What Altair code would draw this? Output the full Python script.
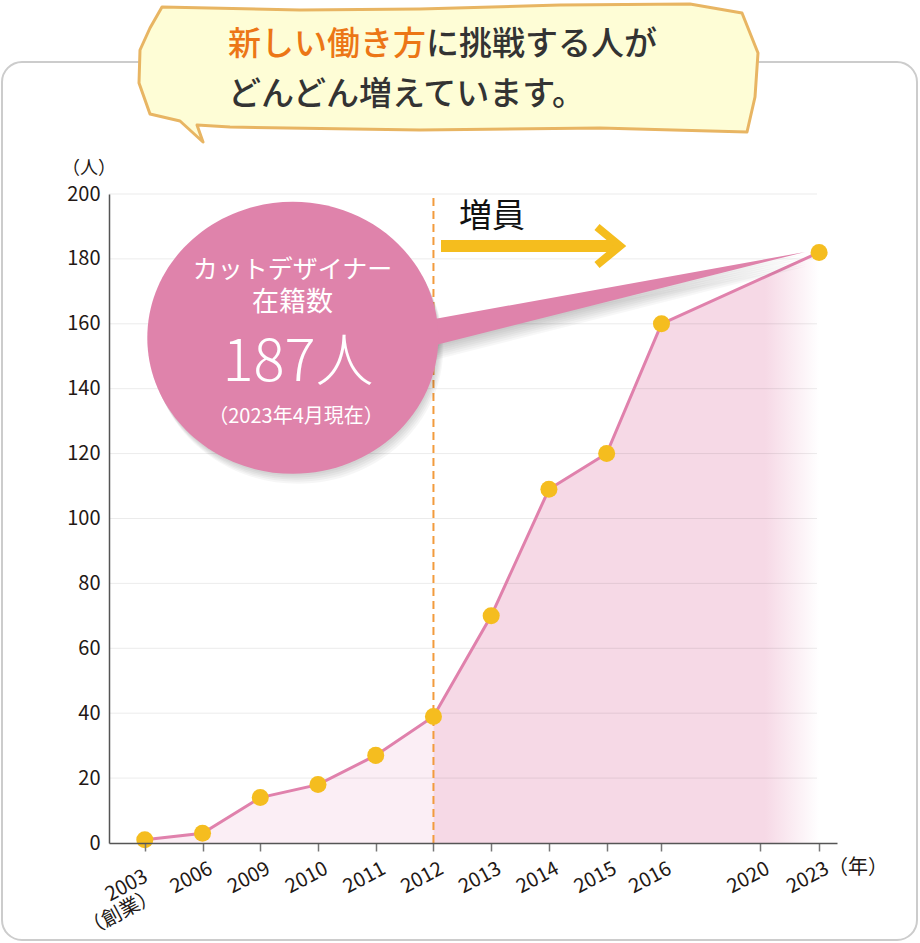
import json
import altair as alt
import pandas as pd

# ---------------- data ----------------
tick_years = ["2003", "2006", "2009", "2010", "2011", "2012", "2013", "2014", "2015", "2016", "2020", "2023"]
tick_slots = [0, 1, 2, 3, 4, 5, 6, 7, 8, 8.95, 10.65, 11.68]
point_years = ["2003", "2006", "2009", "2010", "2011", "2012", "2013", "2014", "2015", "2016", "2023"]
staff = [1, 3, 14, 18, 27, 39, 70, 109, 120, 160, 182]
y_ticks = [0, 20, 40, 60, 80, 100, 120, 140, 160, 180, 200]
grid_vals = [20, 40, 60, 80, 100, 120, 140, 160, 180, 200]
split_year = "2012"

title_orange = "新しい働き方"
title_dark = "に挑戦する人が"
title_line2 = "どんどん増えています。"
bubble_l1 = "カットデザイナー"
bubble_l2 = "在籍数"
bubble_big = "187人"
bubble_note = "（2023年4月現在）"
arrow_label = "増員"
y_unit = "（人）"
x_unit = "（年）"

FONT = "Noto Sans CJK JP"
slot_of = dict(zip(tick_years, tick_slots))
df = pd.DataFrame({"year": point_years, "slot": [slot_of[y] for y in point_years], "staff": staff})
split_slot = slot_of[split_year]
df_a = df[df["slot"] <= split_slot]
df_b = df[df["slot"] >= split_slot]

# ---------------- layout ----------------
W, H = 728, 649
OX, OY = 109, 194
one = pd.DataFrame({"k": [0]})

label_list = [[tick_years[0], "（創業）"]] + tick_years[1:]
xaxis = alt.Axis(
    values=tick_slots,
    labelExpr=f"{json.dumps(label_list, ensure_ascii=False)}[indexof({json.dumps(tick_slots)}, datum.value)]",
    title=None, grid=False, tickSize=8, tickColor="#777777", tickWidth=1.5,
    domainColor="#555555", domainWidth=1.5,
    labelFont=FONT, labelFontSize=20, labelColor="#231815", labelAngle=-28,
    labelAlign="right", labelBaseline="middle", labelLineHeight=21,
    labelPadding={"condition": {"test": "datum.value == 0", "value": 24}, "value": 16},
    labelOffset={"condition": {"test": "datum.value == 0", "value": 1}, "value": 8},
    labelOverlap=False, labelFlush=False, zindex=1,
)
yaxis = alt.Axis(
    values=y_ticks, title=None, grid=False, ticks=False,
    domainColor="#555555", domainWidth=1.5,
    labelFont=FONT, labelFontSize=20, labelColor="#231815", labelPadding=9,
    labelOverlap=False, labelFlush=False, zindex=1,
)
xs = alt.Scale(domain=[-0.62, 11.99], nice=False, zero=False)
ys = alt.Scale(domain=[0, 200], nice=False)
x_enc = alt.X("slot:Q", scale=xs, axis=xaxis)
y_enc = alt.Y("staff:Q", scale=ys, axis=yaxis)


def rel(points):
    return "M" + " L".join(f"{x - OX:.1f},{y - OY:.1f}" for x, y in points) + " Z"


def deco(path, dx=0, dy=0, **kw):
    return alt.Chart(one).mark_point(shape=path, size=4, opacity=1, **kw).encode(
        x=alt.value(dx), y=alt.value(dy))


def txt(text, x, y, size, color, weight="normal", align="center"):
    return alt.Chart(one).mark_text(
        text=text, font=FONT, fontSize=size, color=color, fontWeight=weight,
        align=align, baseline="middle").encode(x=alt.value(x - OX), y=alt.value(y - OY))


# frame
frame = alt.Chart(one).mark_rect(fill="white", stroke="#cccccc", strokeWidth=2, cornerRadius=20).encode(
    x=alt.value(2 - OX), x2=alt.value(917 - OX), y=alt.value(62 - OY), y2=alt.value(940 - OY))

area_a = alt.Chart(df_a).mark_area(color="#fbeef5", opacity=1).encode(x=x_enc, y=y_enc)
area_b = alt.Chart(df_b).mark_area(
    opacity=1,
    color=alt.Gradient(gradient="linear", x1=0, x2=1, y1=0, y2=0, stops=[
        alt.GradientStop(color="#f6d9e6", offset=0),
        alt.GradientStop(color="#f6d9e6", offset=0.86),
        alt.GradientStop(color="#ffffff", offset=1),
    ])).encode(x=x_enc, y=y_enc)

grid = alt.Chart(pd.DataFrame({"staff": grid_vals})).mark_rule(
    color="#000000", opacity=0.08, strokeWidth=1).encode(
    y=y_enc, x=alt.value(0), x2=alt.value(708))

dash = alt.Chart(pd.DataFrame({"slot": [split_slot]})).mark_rule(
    color="#f29b3d", strokeDash=[8, 5], strokeWidth=2).encode(
    x=x_enc, y=alt.datum(0, scale=ys), y2=alt.datum(200))

line = alt.Chart(df).mark_line(color="#e081ac", strokeWidth=3).encode(x=x_enc, y=y_enc)
pts = alt.Chart(df).mark_point(filled=True, fill="#f5bd1f", size=290, opacity=1, shape="circle").encode(
    x=x_enc, y=y_enc)

# callout circle and tail
cx, cy, rx, ry = 292.8 - OX, 337.8 - OY, 145.5, 136
ell = f"M{cx - rx:.1f},{cy:.1f} A{rx},{ry} 0 1,1 {cx + rx:.1f},{cy:.1f} A{rx},{ry} 0 1,1 {cx - rx:.1f},{cy:.1f} Z"
tail = rel([(400, 325.2), (805, 252), (400, 354)])
shadows = []
for sx, sy in [(1, 2), (2, 4), (3, 6), (4, 8), (5, 10)]:
    shadows.append(deco(ell, sx, sy, filled=True, fill="#000000", fillOpacity=0.035))
for sx, sy in [(0, 2), (1, 4), (1, 6), (2, 8), (2, 10), (3, 12), (3, 14)]:
    shadows.append(deco(tail, sx, sy, filled=True, fill="#000000", fillOpacity=0.03))
pink = "#df83ab"
circle = deco(ell, filled=True, fill=pink)
tail_m = deco(tail, filled=True, fill=pink)

c_texts = [
    txt(bubble_l1, 292.5, 270, 25, "white"),
    txt(bubble_l2, 292.5, 303, 27, "white"),
    txt(bubble_big, 298, 364, 58, "white", weight=300),
    txt(bubble_note, 296, 417, 20, "white"),
]

# arrow
arrow_color = "#f5bd1e"
bar = deco(rel([(441, 240), (614, 240), (614, 252), (441, 252)]), filled=True, fill=arrow_color)
chev = deco("M{:.1f},{:.1f} L{:.1f},{:.1f} L{:.1f},{:.1f}".format(597 - OX, 227 - OY, 620 - OX, 246 - OY, 597 - OX, 265 - OY),
            filled=False, stroke=arrow_color, strokeWidth=8, strokeJoin="miter")
arrow_txt = txt(arrow_label, 492, 217, 33, "#111111")

# speech bubble at top
bub = rel([(162, 7), (300, 10), (420, 9), (560, 5), (690, 4), (742, 13), (758, 53), (755, 97),
           (747, 132), (600, 128), (420, 130), (230, 127), (197, 125), (203, 142), (180, 121),
           (150, 114), (139, 83), (140, 50), (150, 28)])
bubble = deco(bub, filled=True, fill="#fefdd6", stroke="#e8b563", strokeWidth=3, strokeJoin="round")
fs = 33
b_texts = [
    txt(title_orange, 228, 45, fs, "#ec7616", weight=500, align="left"),
    txt(title_dark, 228 + fs * len(title_orange), 45, fs, "#333333", weight=500, align="left"),
    txt(title_line2, 228, 95, fs, "#333333", weight=500, align="left"),
]

units = [
    txt(y_unit, 89, 169, 18, "#231815"),
    txt(x_unit, 858, 868, 20, "#231815"),
]

chart = alt.layer(
    frame, area_a, area_b, grid, dash, line, pts,
    *shadows, tail_m, circle, *c_texts,
    bar, chev, arrow_txt, bubble, *b_texts, *units,
).properties(
    width=W, height=H,
    autosize=alt.AutoSizeParams(type="none"),
    padding={"left": OX, "top": OY, "right": 920 - OX - W, "bottom": 943 - OY - H},
    background="white",
).configure_view(strokeWidth=0)

chart.save("out.html", embed_options={"renderer": "svg", "actions": False})
